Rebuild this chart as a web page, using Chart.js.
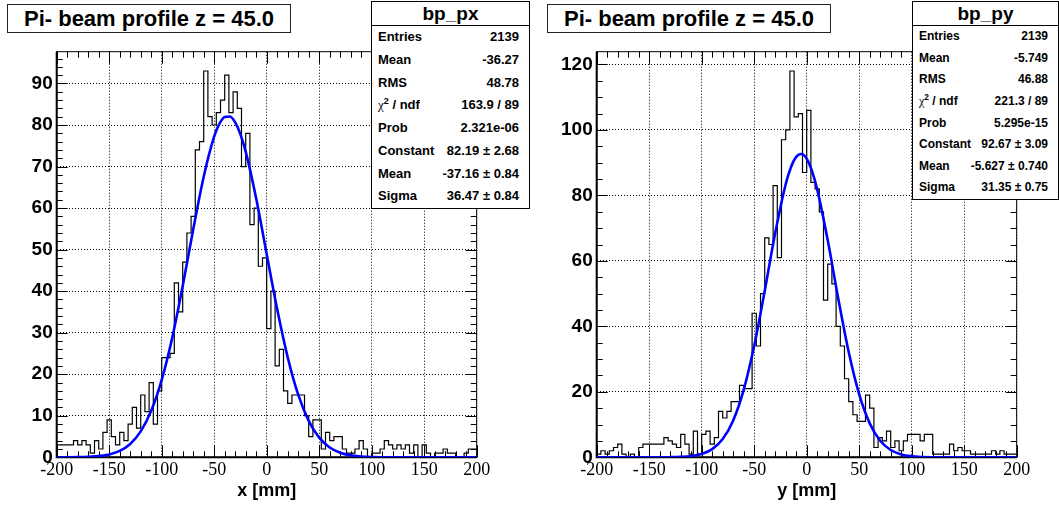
<!DOCTYPE html>
<html>
<head>
<meta charset="utf-8">
<script src="https://cdn.jsdelivr.net/npm/chart.js@4/dist/chart.umd.min.js"></script>
<style>
  body { margin: 0; background: #fff; }
  #wrap { position: relative; width: 1059px; height: 505px; overflow: hidden; background: #fff; }
  canvas { position: absolute; top: 0; }
  .title {
    position: absolute; top: 4px; width: 282px; height: 27px; border: 1px solid #222;
    background: #fff; font: bold 22px "Liberation Sans", Arial, sans-serif; color: #000;
    text-align: center; line-height: 28px; white-space: nowrap;
  }
  .stats { position: absolute; top: 1px; border: 1px solid #000; background: #fff; color: #000;
    font-family: "Liberation Sans", Arial, sans-serif; font-weight: bold; box-sizing: border-box; }
  .stats .hdr { position: absolute; left: 0; right: 0; top: 0; height: 23px; border-bottom: 1px solid #000;
    text-align: center; font-size: 19px; line-height: 23px; }
  .stats .row { position: absolute; left: 6px; right: 10px; white-space: nowrap; }
  .stats .row .v { position: absolute; right: 0; top: 0; }
  .stats .chi { font-family: "Liberation Serif", serif; font-weight: normal; }
  .stats sup { font-size: 0.7em; line-height: 0; }
</style>
</head>
<body>
<div id="wrap">
  <canvas id="cpx" width="530" height="505" style="left:0"></canvas>
  <canvas id="cpy" width="529" height="505" style="left:530px"></canvas>
  <div class="title" style="left:7px">Pi- beam profile z = 45.0</div>
  <div class="title" style="left:547px">Pi- beam profile z = 45.0</div>
  <div class="stats" id="spx" style="left:371px;width:159px;height:208px"></div>
  <div class="stats" id="spy" style="left:912px;width:147px;height:199px"></div>
</div>
<script>
(function () {
    "use strict";

    // 100 bins of 4 mm between -200 and 200
    const binLow = -200;
    const binHigh = 200;

    const pxCounts = [
        1, 3, 3, 3, 3, 4, 3, 4, 3, 1, 4, 2, 6, 9, 5, 3, 6, 4, 8, 12,
        7, 15, 11, 18, 8, 16, 24, 24, 25, 42, 35, 47, 54, 58, 74, 76, 93, 82, 80, 83,
        86, 92, 83, 88, 84, 70, 78, 56, 60, 46, 48, 31, 40, 22, 26, 16, 13, 15, 15, 15,
        10, 5, 9, 9, 2, 6, 4, 5, 5, 2, 1, 1, 2, 4, 2, 0, 1, 1, 2, 4,
        3, 2, 3, 2, 3, 1, 3, 0, 3, 1, 0, 1, 1, 2, 1, 1, 0, 0, 1, 2
    ];
    const pyCounts = [
        1, 1, 2, 1, 2, 3, 4, 1, 0, 1, 0, 3, 4, 4, 4, 4, 4, 6, 5, 4,
        3, 7, 4, 1, 8, 1, 7, 8, 4, 6, 14, 12, 14, 17, 17, 22, 21, 21, 44, 34,
        50, 67, 65, 83, 61, 97, 100, 118, 104, 105, 87, 106, 84, 82, 75, 48, 59, 53, 40, 34,
        24, 17, 13, 11, 11, 19, 15, 3, 6, 5, 8, 3, 5, 2, 5, 7, 7, 7, 5, 7,
        7, 1, 1, 1, 1, 4, 2, 3, 2, 2, 1, 1, 1, 1, 1, 2, 1, 2, 1, 1
    ];

    // gaus fit curves
    const pxFitX = [-200, -190, -180, -170, -160, -150, -140, -130, -120, -110, -100, -90, -80, -70, -60, -50,
        -45, -40, -35, -30, -25, -20, -10, 0, 10, 20, 30, 40, 50, 60, 70, 80, 90, 100, 110, 120, 140, 160, 180, 200];
    const pxFitY = [0.004, 0.013, 0.04, 0.11, 0.28, 0.69, 1.54, 3.22, 6.23, 11.19, 18.63, 28.76, 41.23, 54.82, 67.56, 77.25,
        80.32, 81.94, 82.05, 80.62, 77.74, 73.58, 62.28, 48.9, 35.62, 24.07, 15.07, 8.76, 4.73, 2.37, 1.1, 0.47, 0.19, 0.07, 0.02, 0.01, 0, 0, 0, 0];
    const pyFitX = [-200, -180, -160, -150, -140, -130, -120, -110, -100, -90, -80, -70, -60, -50, -40, -30,
        -20, -15, -10, -5, 0, 5, 10, 20, 30, 40, 50, 60, 70, 80, 90, 100, 110, 120, 130, 150, 170, 200];
    const pyFitY = [0, 0, 0, 0.002, 0.01, 0.035, 0.12, 0.36, 1.0, 2.48, 5.56, 11.26, 20.6, 34.05, 50.8, 68.49,
        83.42, 88.62, 91.77, 92.65, 91.19, 87.49, 81.85, 66.35, 48.59, 32.14, 19.2, 10.36, 5.05, 2.22, 0.88, 0.32, 0.1, 0.03, 0.01, 0, 0, 0];

    const xTickValues = [-200, -150, -100, -50, 0, 50, 100, 150, 200];
    const pxYTickValues = [0, 10, 20, 30, 40, 50, 60, 70, 80, 90];
    const pyYTickValues = [0, 20, 40, 60, 80, 100, 120];

    const pxStats = [
        ["Entries", "2139"], ["Mean", "-36.27"], ["RMS", "48.78"],
        ["<span class=chi>&chi;</span><sup>2</sup> / ndf", "163.9 / 89"], ["Prob", "2.321e-06"],
        ["Constant", "82.19 &plusmn; 2.68"], ["Mean", "-37.16 &plusmn; 0.84"], ["Sigma", "36.47 &plusmn; 0.84"]
    ];
    const pyStats = [
        ["Entries", "2139"], ["Mean", "-5.749"], ["RMS", "46.88"],
        ["<span class=chi>&chi;</span><sup>2</sup> / ndf", "221.3 / 89"], ["Prob", "5.295e-15"],
        ["Constant", "92.67 &plusmn; 3.09"], ["Mean", "-5.627 &plusmn; 0.740"], ["Sigma", "31.35 &plusmn; 0.75"]
    ];

    function fillStats(id, title, rows, fontSize) {
        const box = document.getElementById(id);
        const h = box.offsetHeight - 2;
        const top = 24;
        const rh = (h - top) / rows.length;
        let html = `<div class="hdr">${title}</div>`;
        rows.forEach((r, i) => {
            html += `<div class="row" style="top:${top + i * rh}px;height:${rh}px;line-height:${rh}px;font-size:${fontSize}px">` +
                `<span>${r[0]}</span><span class="v">${r[1]}</span></div>`;
        });
        box.innerHTML = html;
    }

    function histPoints(counts) {
        const w = (binHigh - binLow) / counts.length;
        const pts = counts.map((c, i) => ({ x: binLow + i * w, y: c }));
        pts.push({ x: binHigh, y: counts[counts.length - 1] });
        return pts;
    }

    // ROOT-like frame with inner ticks on all four sides
    const frameTicks = {
        id: "frameTicks",
        beforeDatasetsDraw(chart, args, opts) {
            const { ctx, chartArea: a, scales: { x, y } } = chart;
            ctx.save();
            ctx.strokeStyle = "#000";
            ctx.lineWidth = 1;
            ctx.strokeRect(a.left, a.top, a.right - a.left, a.bottom - a.top);
            ctx.beginPath();
            const nx = Math.round((x.max - x.min) / opts.xMinor);
            for (let i = 0; i <= nx; i++) {
                const v = x.min + i * opts.xMinor;
                const major = Math.abs(v / opts.xMajor - Math.round(v / opts.xMajor)) < 1e-6;
                const len = major ? 12 : 6;
                const px = Math.round(x.getPixelForValue(v)) + 0.5;
                ctx.moveTo(px, a.bottom); ctx.lineTo(px, a.bottom - len);
                ctx.moveTo(px, a.top); ctx.lineTo(px, a.top + len);
            }
            const ny = Math.floor((y.max - y.min) / opts.yMinor + 1e-6);
            for (let i = 0; i <= ny; i++) {
                const v = y.min + i * opts.yMinor;
                const major = Math.abs(v / opts.yMajor - Math.round(v / opts.yMajor)) < 1e-6;
                const len = major ? 11 : 6;
                const py = Math.round(y.getPixelForValue(v)) + 0.5;
                ctx.moveTo(a.left, py); ctx.lineTo(a.left + len, py);
                ctx.moveTo(a.right, py); ctx.lineTo(a.right - len, py);
            }
            ctx.stroke();
            ctx.lineWidth = 2;
            ctx.beginPath();
            ctx.moveTo(a.left, a.top); ctx.lineTo(a.left, a.bottom); ctx.lineTo(a.right, a.bottom);
            ctx.stroke();
            ctx.restore();
        }
    };

    function makeChart(id, cfg) {
        const ctx = document.getElementById(id).getContext("2d");
        return new Chart(ctx, {
            type: "line",
            data: {
                datasets: [{
                    data: cfg.fitX.map((v, i) => ({ x: v, y: cfg.fitY[i] })),
                    borderColor: "#0000ff",
                    borderWidth: 2.6,
                    pointRadius: 0,
                    cubicInterpolationMode: "monotone",
                    fill: false,
                }, {
                    data: histPoints(cfg.counts),
                    borderColor: "#000",
                    borderWidth: 1.2,
                    pointRadius: 0,
                    stepped: "after",
                    fill: false,
                }],
            },
            options: {
                responsive: false,
                animation: false,
                events: [],
                layout: { autoPadding: false, padding: { left: 0, top: 51.7, right: cfg.padRight, bottom: 0 } },
                plugins: { legend: { display: false }, tooltip: { enabled: false },
                    frameTicks: { xMinor: 10, xMajor: 50, yMinor: cfg.yMinor, yMajor: cfg.yMajor } },
                scales: {
                    x: {
                        type: "linear", min: binLow, max: binHigh,
                        afterFit: s => { s.height = 47.7; },
                        afterBuildTicks: s => { s.ticks = xTickValues.map(v => ({ value: v })); },
                        ticks: { font: { family: "Liberation Serif", size: 18 }, color: "#000", padding: 2, maxRotation: 0, autoSkip: false },
                        grid: { color: "#000", lineWidth: 1, drawTicks: false },
                        border: { display: false, dash: [1, 2] },
                        title: { display: true, text: cfg.xTitle, color: "#000",
                            font: { family: "Liberation Sans", size: 18, weight: "bold" }, padding: { top: 0, bottom: 3 } },
                    },
                    y: {
                        type: "linear", min: 0, max: cfg.yMax,
                        afterFit: s => { s.width = cfg.yWidth; },
                        afterBuildTicks: s => { s.ticks = cfg.yTicks.map(v => ({ value: v })); },
                        ticks: { font: { family: "Liberation Sans", size: 19, weight: "bold" }, color: "#000", padding: 4, autoSkip: false },
                        grid: { color: "#000", lineWidth: 1, drawTicks: false },
                        border: { display: false, dash: [1, 2] },
                    },
                },
            },
            plugins: [frameTicks],
        });
    }

    function load() {
        fillStats("spx", "bp_px", pxStats, 13);
        fillStats("spy", "bp_py", pyStats, 12);
        makeChart("cpx", { counts: pxCounts, fitX: pxFitX, fitY: pxFitY, yTicks: pxYTickValues,
            yMax: 97.65, yMinor: 2, yMajor: 10, yWidth: 56.7, padRight: 53.3, xTitle: "x [mm]" });
        makeChart("cpy", { counts: pyCounts, fitX: pyFitX, fitY: pyFitY, yTicks: pyYTickValues,
            yMax: 123.9, yMinor: 5, yMajor: 20, yWidth: 66.7, padRight: 42.3, xTitle: "y [mm]" });
    }

    if (document.readyState === "loading") {
        document.addEventListener("DOMContentLoaded", load);
    } else {
        load();
    }
})();
</script>
</body>
</html>
